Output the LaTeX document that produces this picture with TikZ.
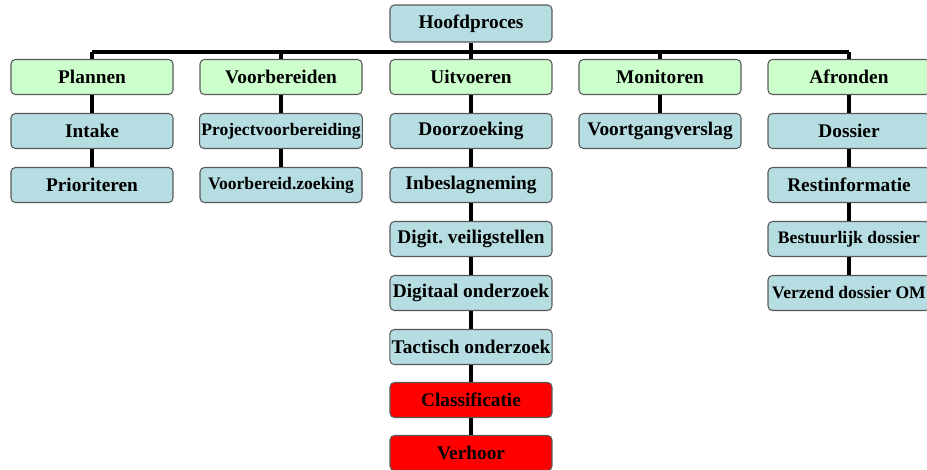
\documentclass[tikz,border=0pt]{standalone}
\usepackage{fontspec}
\setmainfont{Liberation Serif}
\definecolor{taak}{RGB}{182,221,226}
\definecolor{fase}{RGB}{204,255,204}
\tikzset{
  box/.style={draw=black!65, line width=0.6pt, rounded corners=2.5pt, fill=taak, minimum width=3.24cm,
    minimum height=0.7cm, inner sep=1pt, font=\bfseries\fontsize{11}{13}\selectfont},
  fasebox/.style={box, fill=fase},
  alarm/.style={box, fill=red},
  krap/.style={font=\bfseries\fontsize{10}{12}\selectfont},
  tak/.style={line width=1.8pt}
}
\begin{document}
\begin{tikzpicture}[x=0.02cm,y=-0.02cm]
\useasboundingbox (0,0) rectangle (927,470);
% hoofdproces en fasen
\node[box,minimum height=0.74cm] (hoofd) at (471,23.5) {Hoofdproces};
\node[fasebox] (plan) at (92,77) {Plannen};
\node[fasebox] (voor) at (281,77) {Voorbereiden};
\node[fasebox] (uit) at (471,77) {Uitvoeren};
\node[fasebox] (mon) at (660,77) {Monitoren};
\node[fasebox] (afr) at (849,77) {Afronden};
% plannen
\node[box] (intake) at (92,131) {Intake};
\node[box] (prio) at (92,185) {Prioriteren};
% voorbereiden
\node[box,krap] (project) at (281,131) {Projectvoorbereiding};
\node[box,krap] (zoeking) at (281,185) {Voorbereid.zoeking};
% uitvoeren
\node[box] (doorz) at (471,131) {Doorzoeking};
\node[box] (beslag) at (471,185) {Inbeslagneming};
\node[box] (digit) at (471,239) {Digit.\ veiligstellen};
\node[box] (onderz) at (471,293) {Digitaal onderzoek};
\node[box] (tact) at (471,347) {Tactisch onderzoek};
\node[alarm] (class) at (471,400) {Classificatie};
\node[alarm] (verhoor) at (471,453) {Verhoor};
% monitoren
\node[box] (verslag) at (660,131) {Voortgangverslag};
% afronden
\node[box] (dossier) at (849,131) {Dossier};
\node[box] (rest) at (849,185) {Restinformatie};
\node[box,krap] (bestuur) at (849,239) {Bestuurlijk dossier};
\node[box,krap] (verzend) at (849,293) {Verzend dossier OM};
% verbindingen
\coordinate (barL) at (92,52);
\coordinate (barR) at (849,52);
\draw[tak] (barL) -- (barR);
\draw[tak] (hoofd) -- (hoofd |- barL);
\foreach \f in {plan,voor,uit,mon,afr}
	\draw[tak] (\f.north) -- (\f.north |- barL);
\foreach \a/\b in {plan/intake,intake/prio,voor/project,project/zoeking,
	uit/doorz,doorz/beslag,beslag/digit,digit/onderz,onderz/tact,tact/class,class/verhoor,
	mon/verslag,afr/dossier,dossier/rest,rest/bestuur,bestuur/verzend}
	\draw[tak] (\a) -- (\b);
\end{tikzpicture}
\end{document}
